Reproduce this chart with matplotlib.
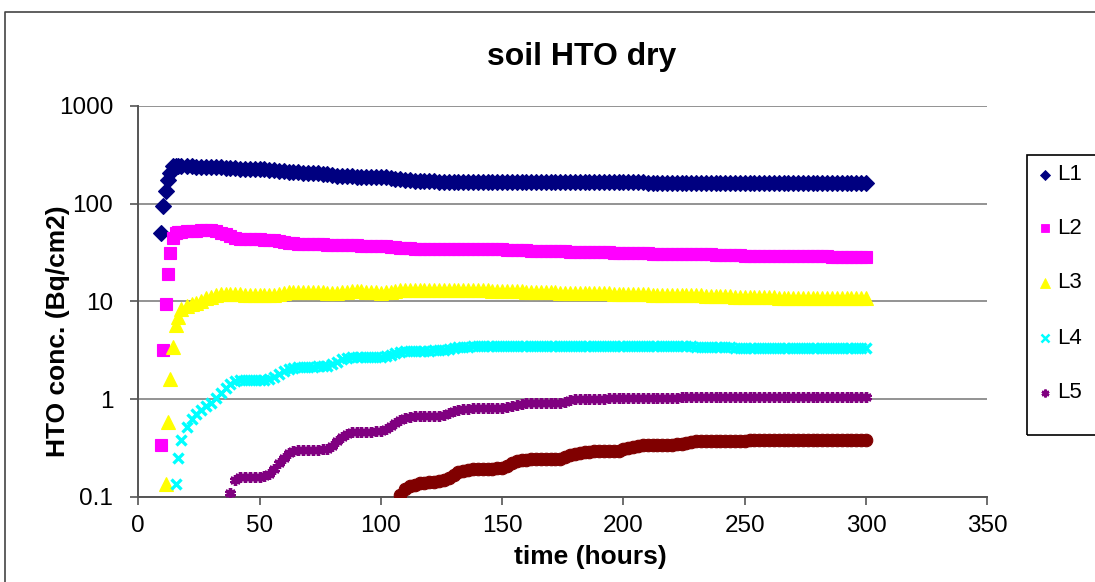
import matplotlib
matplotlib.use("Agg")
import matplotlib.pyplot as plt
from matplotlib.lines import Line2D
from matplotlib.patches import Rectangle
from matplotlib.ticker import NullLocator, FixedLocator, FixedFormatter
import numpy as np

plt.rcParams['font.family'] = ['Liberation Sans', 'DejaVu Sans']

W, H = 1095, 582

title = "soil HTO dry"
xlabel = "time (hours)"
ylabel = "HTO conc. (Bq/cm2)"
series_names = ["L1", "L2", "L3", "L4", "L5", "L6"]
legend_names = ["L1", "L2", "L3", "L4", "L5"]
x_ticks = [0, 50, 100, 150, 200, 250, 300, 350]
y_ticks = [0.1, 1, 10, 100, 1000]
y_tick_labels = ["0.1", "1", "10", "100", "1000"]

hours_early = [9.4, 10.1, 11.3, 12.2, 13.1, 14.2, 15.5, 16.6, 17.8]
hours_main = list(range(20, 301, 2))
hours = hours_early + hours_main

L1 = [50, 95, 136, 175, 204, 244, 245, 244, 243,
      242, 241, 240, 239, 238, 237, 236, 235, 233, 231,
      230, 229, 228, 227, 226, 225, 224, 222, 220, 217,
      215, 212, 210, 209, 208, 207, 206, 205, 203, 200,
      197, 194, 192, 191, 190, 189, 189, 188, 188, 188,
      187, 186, 184, 181, 178, 176, 174, 172, 171, 170,
      169, 169, 168, 168, 168, 167, 167, 167, 167, 166,
      166, 166, 166, 166, 166, 166, 166, 166, 166, 166,
      166, 166, 166, 166, 166, 166, 165, 165, 165, 165,
      165, 165, 165, 165, 165, 165, 165, 165, 165, 165,
      165, 165, 165, 165, 165, 164, 164, 164, 164, 164,
      164, 164, 164, 164, 164, 164, 164, 164, 164, 164,
      164, 164, 164, 164, 164, 164, 164, 164, 163, 163,
      163, 163, 163, 163, 163, 163, 163, 163, 163, 163,
      163, 163, 163, 163, 163, 163, 163, 163, 163, 163,
      163]

L2 = [0.336, 3.16, 9.4, 18.9, 31, 45, 50, 51, 51.5,
      52, 52.5, 53, 53.5, 53.7, 53.2, 52, 50.5, 48.5, 46.5,
      45, 44, 43.6, 43.4, 43.2, 43, 42.8, 42.6, 42.4, 41.5,
      40.5, 39.6, 39.2, 38.9, 38.7, 38.5, 38.4, 38.3, 38.2, 38.1,
      38, 37.8, 37.7, 37.6, 37.5, 37.4, 37.3, 37.2, 37.1, 37,
      36.8, 36.5, 36.1, 35.6, 35.2, 34.9, 34.8, 34.7, 34.7, 34.6,
      34.6, 34.5, 34.5, 34.5, 34.4, 34.4, 34.4, 34.3, 34.3, 34.3,
      34.2, 34.2, 34.1, 34.1, 34.0, 34.0, 33.9, 33.7, 33.5, 33.3,
      33.2, 33.1, 33.0, 32.9, 32.8, 32.7, 32.6, 32.5, 32.4, 32.3,
      32.3, 32.2, 32.2, 32.2, 32.1, 32.0, 31.9, 31.8, 31.6, 31.4,
      31.3, 31.2, 31.1, 31.0, 30.9, 30.9, 30.8, 30.8, 30.7, 30.7,
      30.6, 30.6, 30.6, 30.5, 30.5, 30.5, 30.4, 30.3, 30.2, 30.0,
      29.9, 29.8, 29.7, 29.6, 29.5, 29.4, 29.4, 29.3, 29.3, 29.2,
      29.2, 29.1, 29.1, 29.0, 29.0, 29.0, 28.9, 28.9, 28.9, 28.8,
      28.8, 28.8, 28.8, 28.7, 28.7, 28.7, 28.7, 28.6, 28.6, 28.6,
      28.6]

L3 = [None, None, 0.136, 0.58, 1.62, 3.42, 5.7, 6.9, 8.3,
      9.0, 9.4, 9.7, 10.2, 10.7, 11.2, 11.6, 11.9, 12.0, 12.0,
      11.9, 11.8, 11.7, 11.6, 11.5, 11.5, 11.5, 11.5, 11.6, 11.9,
      12.2, 12.4, 12.5, 12.5, 12.5, 12.5, 12.4, 12.4, 12.4, 12.3,
      12.3, 12.3, 12.4, 12.6, 12.8, 12.8, 12.7, 12.6, 12.5, 12.4,
      12.3, 12.4, 12.6, 12.9, 13.1, 13.2, 13.2, 13.2, 13.2, 13.1,
      13.1, 13.0, 13.0, 13.0, 13.0, 13.1, 13.2, 13.2, 13.2, 13.1,
      13.0, 13.0, 12.95, 12.9, 12.9, 12.85, 12.8, 12.8, 12.7, 12.65,
      12.6, 12.55, 12.5, 12.45, 12.4, 12.4, 12.35, 12.3, 12.3, 12.25,
      12.2, 12.2, 12.15, 12.15, 12.1, 12.1, 12.1, 12.05, 12.0, 12.0,
      11.95, 11.9, 11.9, 11.85, 11.8, 11.8, 11.75, 11.75, 11.7, 11.7,
      11.7, 11.65, 11.65, 11.6, 11.6, 11.55, 11.5, 11.45, 11.4, 11.35,
      11.3, 11.3, 11.25, 11.2, 11.2, 11.15, 11.1, 11.1, 11.05, 11.0,
      11.0, 11.0, 10.95, 10.95, 10.9, 10.9, 10.85, 10.85, 10.8, 10.8,
      10.8, 10.8, 10.75, 10.75, 10.75, 10.7, 10.7, 10.7, 10.7, 10.7,
      10.7]

L4 = [None, None, None, None, None, None, 0.134, 0.25, 0.38,
      0.52, 0.62, 0.70, 0.78, 0.84, 0.92, 1.02, 1.15, 1.30, 1.43,
      1.52, 1.56, 1.57, 1.57, 1.57, 1.58, 1.58, 1.62, 1.70, 1.80,
      1.92, 2.03, 2.10, 2.13, 2.14, 2.15, 2.15, 2.16, 2.17, 2.20,
      2.30, 2.42, 2.55, 2.63, 2.67, 2.68, 2.68, 2.68, 2.68, 2.69,
      2.70, 2.75, 2.85, 2.95, 3.05, 3.10, 3.12, 3.13, 3.13, 3.13,
      3.13, 3.14, 3.15, 3.20, 3.28, 3.35, 3.40, 3.42, 3.44, 3.45,
      3.46, 3.46, 3.46, 3.46, 3.46, 3.47, 3.47, 3.48, 3.48, 3.49,
      3.49, 3.50, 3.50, 3.50, 3.50, 3.50, 3.50, 3.50, 3.50, 3.50,
      3.50, 3.50, 3.50, 3.50, 3.50, 3.50, 3.50, 3.50, 3.50, 3.50,
      3.50, 3.49, 3.49, 3.49, 3.48, 3.48, 3.48, 3.47, 3.47, 3.47,
      3.46, 3.46, 3.46, 3.45, 3.45, 3.44, 3.43, 3.42, 3.41, 3.40,
      3.39, 3.38, 3.37, 3.36, 3.35, 3.34, 3.33, 3.33, 3.32, 3.32,
      3.31, 3.31, 3.31, 3.30, 3.30, 3.30, 3.30, 3.30, 3.30, 3.30,
      3.30, 3.30, 3.30, 3.30, 3.30, 3.30, 3.30, 3.30, 3.30, 3.30,
      3.30]

# L5 starts at 38 h
L5 = [0.11,
      0.15, 0.158, 0.159, 0.16, 0.16, 0.16, 0.162, 0.17, 0.19, 0.22,
      0.25, 0.28, 0.295, 0.30, 0.30, 0.30, 0.30, 0.302, 0.305, 0.31,
      0.33, 0.37, 0.41, 0.44, 0.46, 0.46, 0.46, 0.465, 0.465, 0.47,
      0.47, 0.49, 0.53, 0.57, 0.61, 0.64, 0.66, 0.665, 0.667, 0.67,
      0.67, 0.672, 0.675, 0.69, 0.72, 0.75, 0.77, 0.785, 0.795, 0.80,
      0.80, 0.80, 0.80, 0.80, 0.805, 0.81, 0.83, 0.855, 0.875, 0.89,
      0.90, 0.905, 0.91, 0.91, 0.91, 0.91, 0.915, 0.92, 0.94, 0.97,
      0.99, 1.00, 1.01, 1.01, 1.01, 1.01, 1.01, 1.02, 1.02, 1.02,
      1.02, 1.02, 1.02, 1.03, 1.03, 1.03, 1.03, 1.03, 1.03, 1.03,
      1.03, 1.03, 1.04, 1.04, 1.04, 1.04, 1.04, 1.04, 1.04, 1.04,
      1.04, 1.04, 1.04, 1.05, 1.05, 1.05, 1.05, 1.05, 1.05, 1.05,
      1.05, 1.05, 1.05, 1.05, 1.05, 1.05, 1.05, 1.05, 1.05, 1.05,
      1.05, 1.05, 1.05, 1.05, 1.05, 1.05, 1.05, 1.05, 1.05, 1.05,
      1.05]

# L6 starts at 108 h
L6 = [0.105, 0.12, 0.128, 0.133, 0.137, 0.139,
      0.14, 0.142, 0.144, 0.147, 0.155, 0.165, 0.177, 0.185, 0.188, 0.19,
      0.191, 0.192, 0.193, 0.194, 0.195, 0.197, 0.205, 0.22, 0.232, 0.238,
      0.24, 0.241, 0.242, 0.242, 0.243, 0.244, 0.245, 0.246, 0.255, 0.265,
      0.275, 0.283, 0.288, 0.29, 0.291, 0.292, 0.293, 0.294, 0.295, 0.296,
      0.305, 0.315, 0.325, 0.332, 0.336, 0.337, 0.338, 0.339, 0.34, 0.341,
      0.342, 0.343, 0.35, 0.358, 0.365, 0.37, 0.372, 0.372, 0.373, 0.373,
      0.374, 0.374, 0.375, 0.375, 0.376, 0.376, 0.377, 0.377, 0.378, 0.378,
      0.378, 0.379, 0.379, 0.379, 0.379, 0.38, 0.38, 0.38, 0.38, 0.38,
      0.38, 0.38, 0.38, 0.38, 0.38, 0.38, 0.38, 0.38, 0.38, 0.38,
      0.38]

colors = ["#000080", "#FF00FF", "#FFFF00", "#00FFFF", "#800080", "#800000"]
markers = ["D", "s", "^", "x", (6, 2, 0), "o"]
msizes = [8.0, 8.0, 9.5, 7.4, 7.8, 9.0]
mews = [0.8, 0.8, 0.8, 2.4, 2.4, 0.8]
legend_msizes = [5.6, 5.8, 6.8, 5.4, 5.6]
legend_mews = [0.6, 0.6, 0.6, 1.8, 1.8]

fig = plt.figure(figsize=(W / 100, H / 100), dpi=100)
fig.patch.set_facecolor("white")

ax_left, ax_right, ax_top, ax_bot = 138.2, 987.3, 106.0, 496.7
ax = fig.add_axes([ax_left / W, 1 - ax_bot / H, (ax_right - ax_left) / W, (ax_bot - ax_top) / H])

all_series = [L1, L2, L3, L4, L5, L6]
for i, vals in enumerate(all_series):
    v = np.array(vals, dtype=float)
    t = np.array(hours[len(hours) - len(v):], dtype=float)
    ax.plot(t, v, linestyle="none", marker=markers[i], markersize=msizes[i],
            color=colors[i], markerfacecolor=colors[i], markeredgecolor=colors[i],
            markeredgewidth=mews[i], zorder=3 + i, clip_on=True)

ax.set_yscale("log")
ax.set_ylim(0.1, 1000)
ax.set_xlim(0, 350)
ax.yaxis.set_major_locator(FixedLocator(y_ticks))
ax.yaxis.set_major_formatter(FixedFormatter(y_tick_labels))
ax.yaxis.set_minor_locator(NullLocator())
ax.xaxis.set_major_locator(FixedLocator(x_ticks))
ax.xaxis.set_minor_locator(NullLocator())
ax.set_xticklabels([str(x) for x in x_ticks])

ax.yaxis.grid(True, which="major", color="#808080", linewidth=1.2, zorder=0)
ax.set_axisbelow(True)
for s in ["top", "right"]:
    ax.spines[s].set_visible(False)
for s in ["left", "bottom"]:
    ax.spines[s].set_color("#555555")
    ax.spines[s].set_linewidth(1.4)
ax.tick_params(axis="both", which="major", direction="out", length=6, width=1.2,
               color="#555555", labelsize=17.5)
ax.tick_params(axis="y", pad=12)
ax.tick_params(axis="x", pad=7)

fig.text(582 / W, 1 - 57 / H, title, ha="center", va="center", fontsize=23, fontweight="bold")
fig.text(590 / W, 1 - 557 / H, xlabel, ha="center", va="center", fontsize=19, fontweight="bold")
fig.text(58 / W, 1 - 331 / H, ylabel, ha="center", va="center", fontsize=19, fontweight="bold",
         rotation=90)

# chart area border (top and left edges visible)
fig.add_artist(Line2D([5 / W, 5 / W, 1.01], [-0.01, 1 - 12 / H, 1 - 12 / H],
                      transform=fig.transFigure, color="#444444", linewidth=1.2))

# legend box
fig.add_artist(Rectangle((1027 / W, 1 - 435 / H), 80 / W, (435 - 155) / H,
                         transform=fig.transFigure, fill=False, edgecolor="black",
                         linewidth=1.2, clip_on=False))
leg_y = [175, 228.5, 283, 338, 393]
for i, name in enumerate(legend_names):
    yy = 1 - leg_y[i] / H
    fig.add_artist(Line2D([1045 / W], [yy], transform=fig.transFigure, linestyle="none",
                          marker=markers[i], markersize=legend_msizes[i], color=colors[i],
                          markerfacecolor=colors[i], markeredgecolor=colors[i],
                          markeredgewidth=legend_mews[i]))
    fig.text(1057 / W, yy, name, ha="left", va="center", fontsize=16)

fig.savefig("out.png", dpi=100)
